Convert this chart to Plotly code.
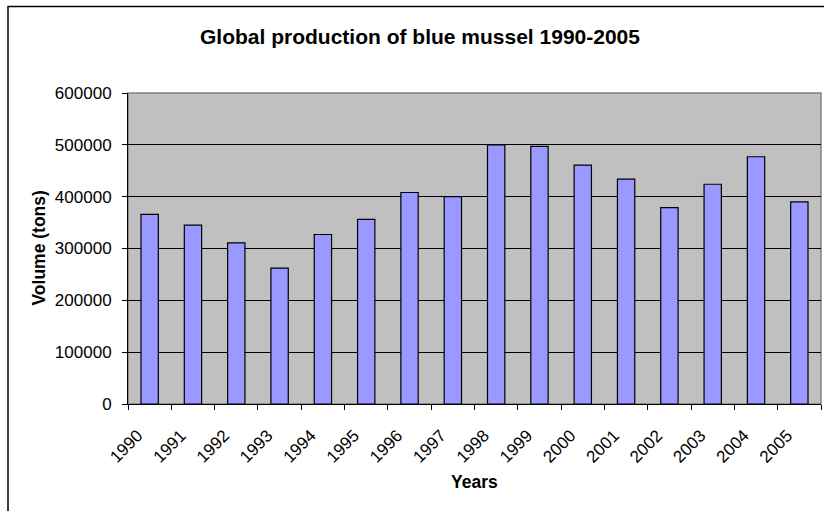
import plotly.graph_objects as go

# Global blue mussel production, tonnes per year
years = ["1990", "1991", "1992", "1993", "1994", "1995", "1996", "1997",
         "1998", "1999", "2000", "2001", "2002", "2003", "2004", "2005"]
volume_tons = [366000, 345000, 311000, 262000, 327000, 356000, 408000, 400000,
               500000, 497000, 461000, 434000, 379000, 424000, 477000, 390000]
y_ticks = [0, 100000, 200000, 300000, 400000, 500000, 600000]

W, H = 824, 511
L, R, T, B = 128, 821, 93, 404  # plot area in pixels
FONT = "Liberation Sans, Arial, sans-serif"


def px_x(p):
    return (p - L) / (R - L)


def px_y(p):
    return (B - p) / (B - T)


fig = go.Figure(
    go.Bar(
        x=years,
        y=volume_tons,
        marker=dict(color="#9999FF", line=dict(color="#000000", width=1.2)),
        hoverinfo="x+y",
    )
)

fig.update_layout(
    width=W,
    height=H,
    margin=dict(l=L, r=W - R, t=T, b=H - B, pad=0),
    paper_bgcolor="#FFFFFF",
    plot_bgcolor="#C0C0C0",
    bargap=0.6,
    showlegend=False,
    font=dict(family=FONT, color="#000000", size=17),
    title=dict(
        text="<b>Global production of blue mussel 1990-2005</b>",
        font=dict(family=FONT, size=21, color="#000000"),
        xref="container", x=420 / W, xanchor="center",
        yref="container", y=1 - 37 / H, yanchor="middle",
    ),
)

fig.update_xaxes(
    type="category",
    tickson="boundaries",
    ticks="outside",
    ticklen=5,
    tickcolor="#000000",
    tickangle=-45,
    ticklabelstandoff=14,
    ticklabelshift=-12,
    tickfont=dict(family=FONT, size=17, color="#000000"),
    showline=True,
    linecolor="#000000",
    linewidth=1,
    showgrid=False,
    zeroline=False,
)

fig.update_yaxes(
    range=[0, 600000],
    tickvals=y_ticks,
    tickformat="d",
    ticks="outside",
    ticklen=5,
    tickcolor="#000000",
    ticklabelstandoff=7,
    tickfont=dict(family=FONT, size=17, color="#000000"),
    showline=True,
    linecolor="#000000",
    linewidth=1,
    showgrid=True,
    gridcolor="#000000",
    gridwidth=1,
    zeroline=False,
)

# Plot-area frame and outer chart frame
fig.add_shape(type="rect", xref="paper", yref="paper", x0=0, x1=1, y0=0, y1=1,
              line=dict(color="#808080", width=1.5), layer="below")
fig.add_shape(type="rect", xref="paper", yref="paper",
              x0=px_x(8), x1=px_x(840), y0=px_y(530), y1=px_y(6.5),
              line=dict(color="#000000", width=1.5), layer="below")

# Axis titles
fig.add_annotation(text="<b>Volume (tons)</b>", xref="paper", yref="paper",
                   x=px_x(38), y=0.5, textangle=-90, showarrow=False,
                   font=dict(family=FONT, size=17.5, color="#000000"),
                   xanchor="center", yanchor="middle")
fig.add_annotation(text="<b>Years</b>", xref="paper", yref="paper",
                   x=0.5, y=px_y(482), showarrow=False,
                   font=dict(family=FONT, size=17.5, color="#000000"),
                   xanchor="center", yanchor="middle")

fig.write_html("out.html")
